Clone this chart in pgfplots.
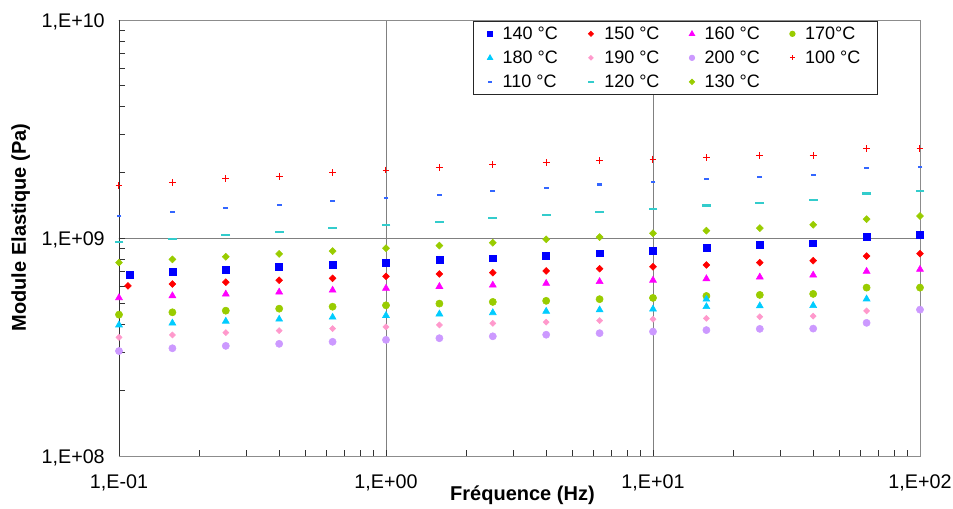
\documentclass[border=0pt]{standalone}
\usepackage{fontspec}
\setmainfont{Liberation Sans}
\usepackage{pgfplots}
\pgfplotsset{compat=1.18}
\definecolor{c140}{RGB}{0,0,255}
\definecolor{c150}{RGB}{255,0,0}
\definecolor{c160}{RGB}{255,0,255}
\definecolor{c170}{RGB}{153,204,0}
\definecolor{c180}{RGB}{0,204,255}
\definecolor{c190}{RGB}{255,153,204}
\definecolor{c200}{RGB}{204,153,255}
\definecolor{c100}{RGB}{255,0,0}
\definecolor{c110}{RGB}{51,102,255}
\definecolor{c120}{RGB}{51,204,204}
\definecolor{c130}{RGB}{153,204,0}
\begin{document}
\begin{tikzpicture}
\useasboundingbox (-89.25pt,-39pt) rectangle (625.5pt,342pt);
\begin{axis}[
  at={(0,0)}, anchor=south west,
  scale only axis, width=600.75pt, height=327pt,
  xmode=log, ymode=log,
  xmin=0.1, xmax=100, ymin=1e8, ymax=1e10,
  axis line style={black!45, line width=0.5pt},
  tick pos=left,
  xtick={0.1,1,10,100},
  xticklabels={{1,E-01},{1,E+00},{1,E+01},{1,E+02}},
  ytick={1e8,1e9,1e10},
  yticklabels={{1,E+08},{1,E+09},{1,E+10}},
  minor xtick={0.2,0.3,0.4,0.5,0.6,0.7,0.8,0.9,2,3,4,5,6,7,8,9,20,30,40,50,60,70,80,90},
  minor ytick={2e8,3e8,4e8,5e8,6e8,7e8,8e8,9e8,2e9,3e9,4e9,5e9,6e9,7e9,8e9,9e9},
  tick align=inside,
  major tick length=4.5pt, minor tick length=4.5pt,
  tick style={black!80, line width=0.6pt},
  xmajorgrids, ymajorgrids,
  major grid style={black!50, line width=0.5pt},
  tick label style={font=\fontsize{14.8}{17}\selectfont, inner sep=0pt},
  xticklabel style={anchor=base, yshift=-24.75pt},
  yticklabel style={anchor=base east, xshift=-10.5pt, yshift=-5.3pt},
  xlabel={Fréquence (Hz)},
  ylabel={Module Elastique (Pa)},
  every axis x label/.style={at={(axis description cs:0.5037,-0.1025)}, anchor=base, font=\bfseries\fontsize{15}{18}\selectfont},
  every axis y label/.style={at={(axis description cs:-0.1161,0.524)}, rotate=90, anchor=base, font=\bfseries\fontsize{15}{18}\selectfont},
  legend columns=4,
  legend cell align=left,
  legend image code/.code={\draw[mark repeat=2,mark phase=2] plot coordinates {(0pt,0pt)(3pt,0pt)(6pt,0pt)};},
  legend image post style={/tikz/every mark/.append style={scale=0.75}},
  legend style={at={(axis description cs:0.442,0.998)}, anchor=north west,
    draw=black!85, line width=0.6pt, fill=white,
    font=\fontsize{13.5}{15}\selectfont,
    inner xsep=10.5pt, inner ysep=3.2pt,
    row sep=5.5pt,
    nodes={inner ysep=0pt, text height=10.5pt, text depth=2pt},
    /tikz/every odd column/.append style={column sep=5.5pt},
    /tikz/every even column/.append style={column sep=20.35pt}},
]
% 140
\addplot[only marks, mark=square*, mark size=2.6pt, color=c140] coordinates {
(0.110,6.81e8) (0.1585,6.98e8) (0.2512,7.18e8) (0.3981,7.35e8) (0.631,7.52e8) (1,7.67e8) (1.585,7.91e8) (2.512,8.07e8) (3.981,8.30e8) (6.31,8.51e8) (10,8.71e8) (15.85,8.98e8) (25.12,9.27e8) (39.81,9.46e8) (63.1,1.01e9) (100,1.03e9)};
\addlegendentry{140 °C}
% 150
\addplot[only marks, mark=square*, mark size=1.8pt, mark options={rotate=45}, color=c150] coordinates {
(0.108,6.03e8) (0.1585,6.15e8) (0.2512,6.27e8) (0.3981,6.40e8) (0.631,6.53e8) (1,6.67e8) (1.585,6.84e8) (2.512,6.93e8) (3.981,7.06e8) (6.31,7.23e8) (10,7.38e8) (15.85,7.52e8) (25.12,7.71e8) (39.81,7.87e8) (63.1,8.26e8) (100,8.47e8)};
\addlegendentry{150 °C}
% 160
\addplot[only marks, mark=triangle*, mark size=3.0pt, color=c160] coordinates {
(0.1,5.32e8) (0.1585,5.43e8) (0.2512,5.53e8) (0.3981,5.65e8) (0.631,5.76e8) (1,5.88e8) (1.585,5.99e8) (2.512,6.08e8) (3.981,6.19e8) (6.31,6.31e8) (10,6.40e8) (15.85,6.50e8) (25.12,6.62e8) (39.81,6.76e8) (63.1,7.03e8) (100,7.18e8)};
\addlegendentry{160 °C}
% 170
\addplot[only marks, mark=*, mark size=2.7pt, color=c170] coordinates {
(0.1,4.45e8) (0.1585,4.56e8) (0.2512,4.64e8) (0.3981,4.74e8) (0.631,4.84e8) (1,4.91e8) (1.585,5.00e8) (2.512,5.09e8) (3.981,5.15e8) (6.31,5.24e8) (10,5.31e8) (15.85,5.42e8) (25.12,5.48e8) (39.81,5.54e8) (63.1,5.92e8) (100,5.92e8)};
\addlegendentry{170°C}
% 180
\addplot[only marks, mark=triangle*, mark size=3.0pt, color=c180] coordinates {
(0.1,3.99e8) (0.1585,4.07e8) (0.2512,4.15e8) (0.3981,4.24e8) (0.631,4.33e8) (1,4.41e8) (1.585,4.48e8) (2.512,4.54e8) (3.981,4.61e8) (6.31,4.68e8) (10,4.72e8) (15.85,4.84e8) (15.85,5.24e8) (25.12,4.88e8) (39.81,4.90e8) (63.1,5.25e8)};
\addlegendentry{180 °C}
% 190
\addplot[only marks, mark=square*, mark size=1.6pt, mark options={rotate=45}, color=c190] coordinates {
(0.1,3.50e8) (0.1585,3.59e8) (0.2512,3.68e8) (0.3981,3.76e8) (0.631,3.84e8) (1,3.91e8) (1.585,3.99e8) (2.512,4.06e8) (3.981,4.11e8) (6.31,4.18e8) (10,4.24e8) (15.85,4.28e8) (25.12,4.35e8) (39.81,4.38e8) (63.1,4.63e8)};
\addlegendentry{190 °C}
% 200
\addplot[only marks, mark=*, mark size=2.7pt, color=c200] coordinates {
(0.1,3.03e8) (0.1585,3.12e8) (0.2512,3.20e8) (0.3981,3.27e8) (0.631,3.34e8) (1,3.41e8) (1.585,3.47e8) (2.512,3.54e8) (3.981,3.60e8) (6.31,3.66e8) (10,3.72e8) (15.85,3.78e8) (25.12,3.83e8) (39.81,3.84e8) (63.1,4.08e8) (100,4.69e8)};
\addlegendentry{200 °C}
% 100
\addplot[only marks, mark=+, mark size=2.6pt, mark options={line width=0.75pt, draw=c100}, color=c100] coordinates {
(0.1,1.74e9) (0.1585,1.80e9) (0.2512,1.87e9) (0.3981,1.92e9) (0.631,1.99e9) (1,2.05e9) (1.585,2.11e9) (2.512,2.17e9) (3.981,2.21e9) (6.31,2.26e9) (10,2.30e9) (15.85,2.33e9) (25.12,2.38e9) (39.81,2.39e9) (63.1,2.57e9) (100,2.57e9)};
\addlegendentry{100 °C}
% 110
\addplot[only marks, mark=-, mark size=1.8pt, mark options={line width=1.6pt, draw=c110}, color=c110] coordinates {
(0.1,1.26e9) (0.1585,1.32e9) (0.2512,1.37e9) (0.3981,1.42e9) (0.631,1.48e9) (1,1.53e9) (1.585,1.58e9) (2.512,1.64e9) (3.981,1.70e9) (6.31,1.76e9) (10,1.80e9) (15.85,1.86e9) (25.12,1.91e9) (39.81,1.94e9) (63.1,2.10e9) (100,2.11e9)};
\addlegendentry{110 °C}
% 120
\addplot[only marks, mark=-, mark size=3.3pt, mark options={line width=1.6pt, draw=c120}, color=c120] coordinates {
(0.1,0.96e9) (0.1585,0.993e9) (0.2512,1.03e9) (0.3981,1.07e9) (0.631,1.11e9) (1,1.15e9) (1.585,1.18e9) (2.512,1.23e9) (3.981,1.27e9) (6.31,1.32e9) (10,1.36e9) (15.85,1.41e9) (25.12,1.45e9) (39.81,1.49e9) (63.1,1.60e9) (100,1.64e9)};
\addlegendentry{120 °C}
% 130
\addplot[only marks, mark=square*, mark size=1.85pt, mark options={rotate=45}, color=c130] coordinates {
(0.1,7.71e8) (0.1585,7.98e8) (0.2512,8.20e8) (0.3981,8.45e8) (0.631,8.71e8) (1,8.98e8) (1.585,9.23e8) (2.512,9.51e8) (3.981,9.86e8) (6.31,1.01e9) (10,1.05e9) (15.85,1.08e9) (25.12,1.11e9) (39.81,1.15e9) (63.1,1.22e9) (100,1.26e9)};
\addlegendentry{130 °C}
\draw[black!80, line width=0.6pt] (rel axis cs:0,1) -- (rel axis cs:0,0) -- (rel axis cs:1,0);
\draw[black!80, line width=0.6pt] (axis cs:0.1,1e8) -- ++(0pt,-6pt) (axis cs:1,1e8) -- ++(0pt,-6pt) (axis cs:10,1e8) -- ++(0pt,-6pt) (axis cs:100,1e8) -- ++(0pt,-6pt);
\draw[black!80, line width=0.6pt] (axis cs:0.1,1e8) -- ++(-6pt,0pt) (axis cs:0.1,1e9) -- ++(-6pt,0pt) (axis cs:0.1,1e10) -- ++(-6pt,0pt);
\end{axis}
\end{tikzpicture}
\end{document}
